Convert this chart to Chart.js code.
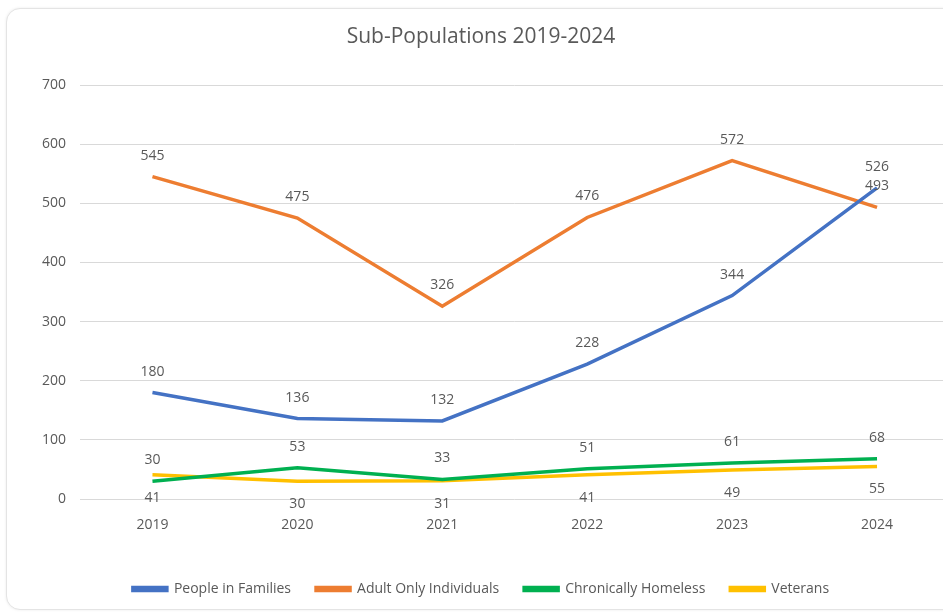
<!DOCTYPE html>
<html>
<head>
<meta charset="utf-8">
<script src="https://cdn.jsdelivr.net/npm/chart.js@4.4.1/dist/chart.umd.min.js"></script>
<style>
    html, body { margin: 0; padding: 0; background: #fff; overflow: hidden; }
    body { width: 943px; height: 612px; position: relative; }
    .card {
        position: absolute; left: 6px; top: 8px; width: 960px; height: 600px;
        border: 1px solid #e4e4e4; border-radius: 14px;
        box-shadow: 0 0 3px rgba(0,0,0,.08);
        background: #fff;
    }
    .wrap { position: absolute; left: 0; top: 0; width: 960px; height: 612px; }
</style>
</head>
<body>
<div class="card"></div>
<div class="wrap"><canvas id="chartSub"></canvas></div>
<script>
// ── Datos ────────────────────────────────────────────────────────────────
var years       = ['2019', '2020', '2021', '2022', '2023', '2024'];
var families    = [180, 136, 132, 228, 344, 526];
var adultOnly   = [545, 475, 326, 476, 572, 493];
var chronically = [30, 53, 33, 51, 61, 68];
var veterans    = [41, 30, 31, 41, 49, 55];
var yTicks      = [0, 100, 200, 300, 400, 500, 600, 700];

var txtColor = '#595959';
Chart.defaults.font.family = "'Open Sans','DejaVu Sans',sans-serif";
Chart.defaults.color = txtColor;

// ── Plugin: etiquetas de valor sobre/bajo cada punto ────────────────────
var valueLabels = {
    id: 'valueLabels',
    afterDatasetsDraw: function (chart) {
        var ctx = chart.ctx;
        ctx.save();
        ctx.font = "14px 'Open Sans','DejaVu Sans',sans-serif";
        ctx.fillStyle = txtColor;
        ctx.textAlign = 'center';
        ctx.textBaseline = 'middle';
        chart.data.datasets.forEach(function (ds, i) {
            var meta = chart.getDatasetMeta(i);
            meta.data.forEach(function (pt, j) {
                var dy = ds.labelSide === 'below' ? 23 : -21;
                ctx.fillText(String(ds.data[j]), pt.x, pt.y + dy);
            });
        });
        ctx.restore();
    }
};

function serie(label, data, color, side) {
    return {
        label: label,
        data: data,
        borderColor: color,
        backgroundColor: color,
        borderWidth: 3.5,
        pointRadius: 0,
        pointHoverRadius: 0,
        tension: 0,
        fill: false,
        labelSide: side
    };
}

new Chart(document.getElementById('chartSub'), {
    type: 'line',
    data: {
        labels: years,
        datasets: [
            serie('People in Families',     families,    '#4472C4', 'above'),
            serie('Adult Only Individuals', adultOnly,   '#ED7D31', 'above'),
            serie('Chronically Homeless',   chronically, '#00B050', 'above'),
            serie('Veterans',               veterans,    '#FFC000', 'below')
        ]
    },
    options: {
        responsive: true,
        maintainAspectRatio: false,
        animation: false,
        layout: { padding: { left: 12.5, right: 10.5, top: 0, bottom: 6 } },
        plugins: {
            title: {
                display: true,
                text: 'Sub-Populations 2019-2024',
                color: txtColor,
                font: { size: 21, weight: 'normal' },
                padding: { top: 24.5, bottom: 35.3 }
            },
            legend: {
                position: 'bottom',
                labels: {
                    boxWidth: 34,
                    boxHeight: 3,
                    padding: 25,
                    color: txtColor,
                    font: { size: 14 }
                }
            },
            tooltip: { enabled: false }
        },
        scales: {
            x: {
                offset: true,
                grid: { display: false },
                border: { display: false },
                ticks: { padding: 10, font: { size: 14 }, color: txtColor },
                afterFit: function (s) { s.height = 58; }
            },
            y: {
                min: 0,
                max: 700,
                afterBuildTicks: function (s) {
                    s.ticks = yTicks.map(function (v) { return { value: v }; });
                },
                grid: { color: '#d9d9d9', lineWidth: 1, drawTicks: false },
                border: { display: false },
                ticks: { padding: 14, font: { size: 14 }, color: txtColor },
                afterFit: function (s) { s.width = 67.5; }
            }
        }
    },
    plugins: [valueLabels]
});
</script>
</body>
</html>
